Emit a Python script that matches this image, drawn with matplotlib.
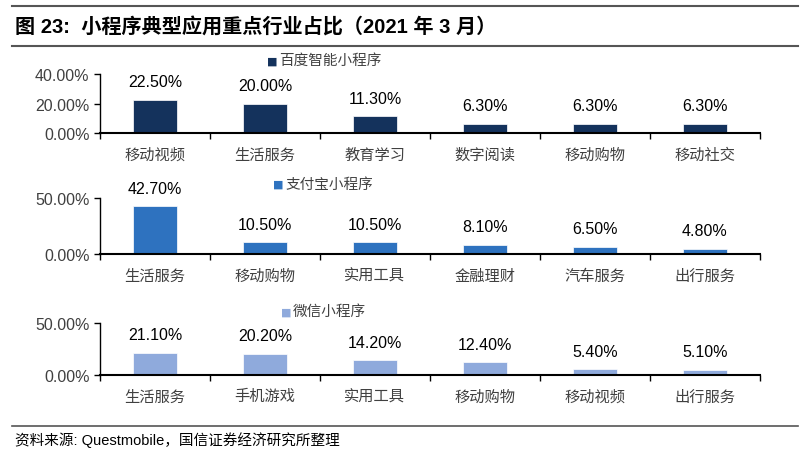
import matplotlib
matplotlib.use("Agg")
import matplotlib.pyplot as plt
from matplotlib.lines import Line2D
from matplotlib.ticker import FuncFormatter

plt.rcParams['font.family'] = ['Liberation Sans', 'Noto Sans CJK SC', 'DejaVu Sans']

# 数据
baidu_cats = ["移动视频", "生活服务", "教育学习", "数字阅读", "移动购物", "移动社交"]
baidu_vals = [22.5, 20.0, 11.3, 6.3, 6.3, 6.3]
alipay_cats = ["生活服务", "移动购物", "实用工具", "金融理财", "汽车服务", "出行服务"]
alipay_vals = [42.7, 10.5, 10.5, 8.1, 6.5, 4.8]
wechat_cats = ["生活服务", "手机游戏", "实用工具", "移动购物", "移动视频", "出行服务"]
wechat_vals = [21.1, 20.2, 14.2, 12.4, 5.4, 5.1]

panels = [
    ("百度智能小程序", baidu_cats, baidu_vals, "#14325C", [0, 20, 40], 40,
     [0.1235, 0.711, 0.8145, 0.127], (0.329, 0.868)),
    ("支付宝小程序", alipay_cats, alipay_vals, "#2E72BF", [0, 50], 50,
     [0.1235, 0.4504, 0.8145, 0.1207], (0.337, 0.601)),
    ("微信小程序", wechat_cats, wechat_vals, "#8FAADC", [0, 50], 50,
     [0.1235, 0.1897, 0.8145, 0.112], (0.347, 0.327)),
]

fig = plt.figure(figsize=(8.1, 4.64), dpi=100)

# 标题和分隔线
fig.add_artist(Line2D([0.015, 0.985], [0.985, 0.985], color="#555555", lw=1.5))
fig.text(0.018, 0.94, "图 23:  小程序典型应用重点行业占比（2021 年 3 月）",
         fontsize=14.5, fontweight="bold", va="center", ha="left",
         family=['Liberation Sans', 'Noto Sans CJK SC'])
fig.add_artist(Line2D([0.015, 0.985], [0.898, 0.898], color="#555555", lw=1.5))
fig.add_artist(Line2D([0.015, 0.985], [0.079, 0.079], color="#555555", lw=1.2))
fig.text(0.018, 0.052, "资料来源: Questmobile，国信证券经济研究所整理",
         fontsize=10.5, va="center", ha="left")

for name, cats, vals, color, ticks, top, pos, legpos in panels:
    ax = fig.add_axes(pos)
    x = list(range(len(cats)))
    ax.bar(x, vals, width=0.4, color=color, edgecolor="white", linewidth=0.5)
    for xi, v in zip(x, vals):
        ax.annotate(f"{v:.2f}%", (xi, v), xytext=(0, 13), textcoords="offset points",
                    ha="center", va="center", fontsize=11.5, color="black",
                    annotation_clip=False)
    ax.set_xlim(-0.5, len(cats) - 0.5)
    ax.set_ylim(0, top)
    ax.set_yticks(ticks)
    ax.yaxis.set_major_formatter(FuncFormatter(lambda v, p: f"{v:.2f}%"))
    ax.set_xticks([i - 0.5 for i in range(len(cats) + 1)], minor=False)
    ax.set_xticklabels([])
    ax.set_xticks(x, minor=True)
    ax.set_xticklabels(cats, minor=True, fontsize=11, color="#404040",
                       family=['Noto Sans CJK SC'])
    ax.tick_params(axis="x", which="major", direction="out", length=4, width=1)
    ax.tick_params(axis="x", which="minor", length=0, pad=9)
    ax.tick_params(axis="y", direction="out", length=4, width=1,
                   labelsize=11.5, labelcolor="#404040")
    for s in ["top", "right"]:
        ax.spines[s].set_visible(False)
    ax.spines["left"].set_linewidth(1)
    ax.spines["bottom"].set_linewidth(1.5)
    # 图例
    fig.text(legpos[0], legpos[1], "■", color=color, fontsize=8, va="center",
             ha="left", family=['DejaVu Sans'])
    fig.text(legpos[0] + 0.015, legpos[1], name, color="#404040", fontsize=10.5,
             va="center", ha="left", family=['Noto Sans CJK SC'])

fig.savefig("out.png", dpi=100)
